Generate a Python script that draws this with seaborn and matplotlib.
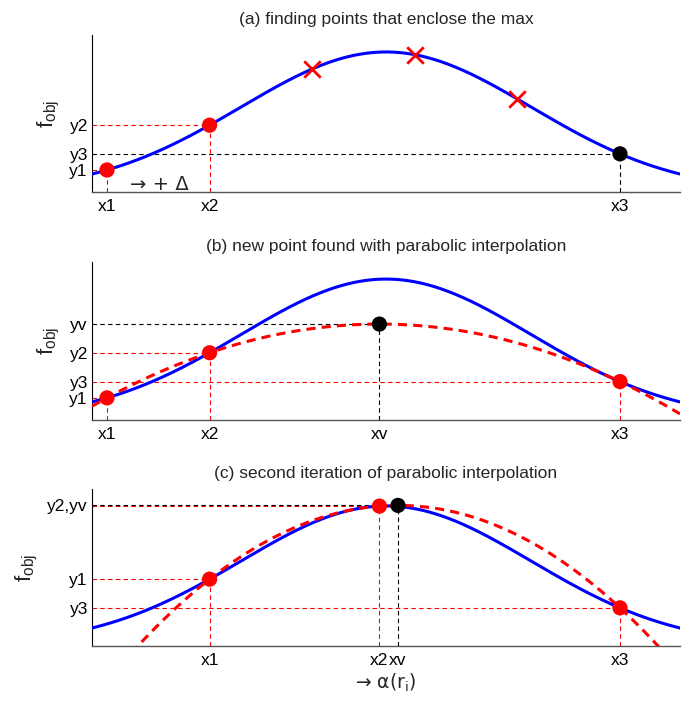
import numpy as np
import matplotlib
matplotlib.use("Agg")
import matplotlib.pyplot as plt
import seaborn as sns

# ---- objective function: a single smooth bump -------------------------
PEAK_HEIGHT = 0.892
PEAK_CENTER = 3.72
PEAK_WIDTH = 1.414

X_LIMITS = (0.854, 6.585)
Y_LIMITS = (0.0, 1.0)

# (a) stepping forward by Δ from x1 until the max is enclosed
step_x = [1, 2, 3, 4, 5, 6]
step_labels = ["x1", "x2", "", "", "", "x3"]
rejected_x = [3, 4, 5]          # trial points marked with crosses
bracket_a = [1, 2, 6]           # x1, x2, x3

# (b) first parabolic interpolation through x1, x2, x3
bracket_b = [1, 2, 6]

TITLES = ["(a) finding points that enclose the max",
          "(b) new point found with parabolic interpolation",
          "(c) second iteration of parabolic interpolation"]

sns.set_style("white")
plt.rcParams["font.family"] = ["Liberation Sans", "DejaVu Sans"]
plt.rcParams["mathtext.default"] = "regular"

BLUE = (0, 0, 1)
RED = (1, 0, 0)
GUIDE_LS = (0, (4, 3))
TICK_FS = 12.5


def f_obj(x):
    x = np.asarray(x, dtype=float)
    return PEAK_HEIGHT * np.exp(-(x - PEAK_CENTER) ** 2 / (2 * PEAK_WIDTH ** 2))


def fit_parabola(xs):
    coeffs = np.polyfit(xs, f_obj(xs), 2)
    xv = -coeffs[1] / (2 * coeffs[0])
    return coeffs, xv, np.polyval(coeffs, xv)


def guide(ax, x, y, color, z=2):
    """Dashed drop lines from a point to both axes."""
    ax.plot([x, x], [Y_LIMITS[0], y], color=color, lw=0.8, ls=GUIDE_LS, zorder=z)
    ax.plot([X_LIMITS[0], x], [y, y], color=color, lw=0.8, ls=GUIDE_LS, zorder=z)


def dot(ax, x, y, color):
    sns.scatterplot(x=[x], y=[y], color=color, s=120, edgecolor="none",
                    ax=ax, zorder=5, legend=False)


def style(ax, title):
    ax.set_xlim(*X_LIMITS)
    ax.set_ylim(*Y_LIMITS)
    sns.despine(ax=ax)
    ax.spines["left"].set_color("black")
    ax.spines["bottom"].set_color("#555555")
    ax.spines["left"].set_linewidth(0.8)
    ax.spines["bottom"].set_linewidth(1.0)
    ax.tick_params(direction="in", length=4, width=0.8, labelsize=TICK_FS,
                   colors="black")
    ax.tick_params(axis="x", pad=5)
    ax.tick_params(axis="y", pad=3)
    ax.set_title(title, fontsize=12.5, pad=8)
    ax.set_ylabel("f$_{obj}$", fontsize=16, labelpad=5)


fig = plt.figure(figsize=(6.86, 7.03), dpi=100)
W, H = 686, 703
boxes = [(35, 192), (262, 420), (489, 646)]
axes = [fig.add_axes([92 / W, 1 - b / H, 588 / W, (b - t) / H]) for t, b in boxes]

xs = np.linspace(*X_LIMITS, 400)

# ---------------- (a) ----------------
ax = axes[0]
sns.lineplot(x=xs, y=f_obj(xs), color=BLUE, lw=2.2, ax=ax, zorder=3)
colors_a = [RED, RED, "black"]
for xb, c in zip(bracket_a, colors_a):
    guide(ax, xb, f_obj(xb), c)
for xb, c in zip(bracket_a, colors_a):
    dot(ax, xb, f_obj(xb), c)
sns.scatterplot(x=rejected_x, y=f_obj(rejected_x), marker="x", color=RED,
                s=140, linewidth=2, ax=ax, zorder=5, legend=False)
ax.text(1.22, 0.05, "→ + Δ", fontsize=14, family="DejaVu Sans",
        ha="left", va="center")
ax.set_xticks(step_x)
ax.set_xticklabels(step_labels)
ax.set_yticks([f_obj(bracket_a[0]), f_obj(bracket_a[2]), f_obj(bracket_a[1])])
ax.set_yticklabels(["y1", "y3", "y2"])
style(ax, TITLES[0])

# ---------------- (b) ----------------
ax = axes[1]
coef_b, xv_b, yv_b = fit_parabola(bracket_b)
sns.lineplot(x=xs, y=f_obj(xs), color=BLUE, lw=2.2, ax=ax, zorder=3)
ax.plot(xs, np.polyval(coef_b, xs), color=RED, lw=2.2, ls=(0, (3, 2)), zorder=4)
for xb in bracket_b:
    guide(ax, xb, f_obj(xb), RED)
guide(ax, xv_b, yv_b, "black")
for xb in bracket_b:
    dot(ax, xb, f_obj(xb), RED)
dot(ax, xv_b, yv_b, "black")
ax.set_xticks(bracket_b[:2] + [xv_b, bracket_b[2]])
ax.set_xticklabels(["x1", "x2", "xv", "x3"])
yb = f_obj(bracket_b)
ax.set_yticks([yb[0], yb[2], yb[1], yv_b])
ax.set_yticklabels(["y1", "y3", "y2", "yv"])
style(ax, TITLES[1])

# ---------------- (c) ----------------
ax = axes[2]
bracket_c = [bracket_b[1], xv_b, bracket_b[2]]
coef_c, xv_c, yv_c = fit_parabola(bracket_c)
sns.lineplot(x=xs, y=f_obj(xs), color=BLUE, lw=2.2, ax=ax, zorder=3)
ax.plot(xs, np.polyval(coef_c, xs), color=RED, lw=2.2, ls=(0, (3, 2)), zorder=4)
for xb in bracket_c:
    guide(ax, xb, f_obj(xb), RED)
guide(ax, xv_c, yv_c, "black", z=2.5)
for xb in bracket_c:
    dot(ax, xb, f_obj(xb), RED)
dot(ax, xv_c, yv_c, "black")
ax.set_xticks(bracket_c + [xv_c])
ax.set_xticklabels(["x1", "x2", "x3", "xv"])
yc = f_obj(bracket_c)
ax.set_yticks([yc[0], yc[2], yv_c])
ax.set_yticklabels(["y1", "y3", "y2,yv"])
style(ax, TITLES[2])
ax.set_xlabel("→ α(r$_{i}$)", fontsize=13.5, family="DejaVu Sans", labelpad=3)

fig.savefig("out.png", dpi=100)
